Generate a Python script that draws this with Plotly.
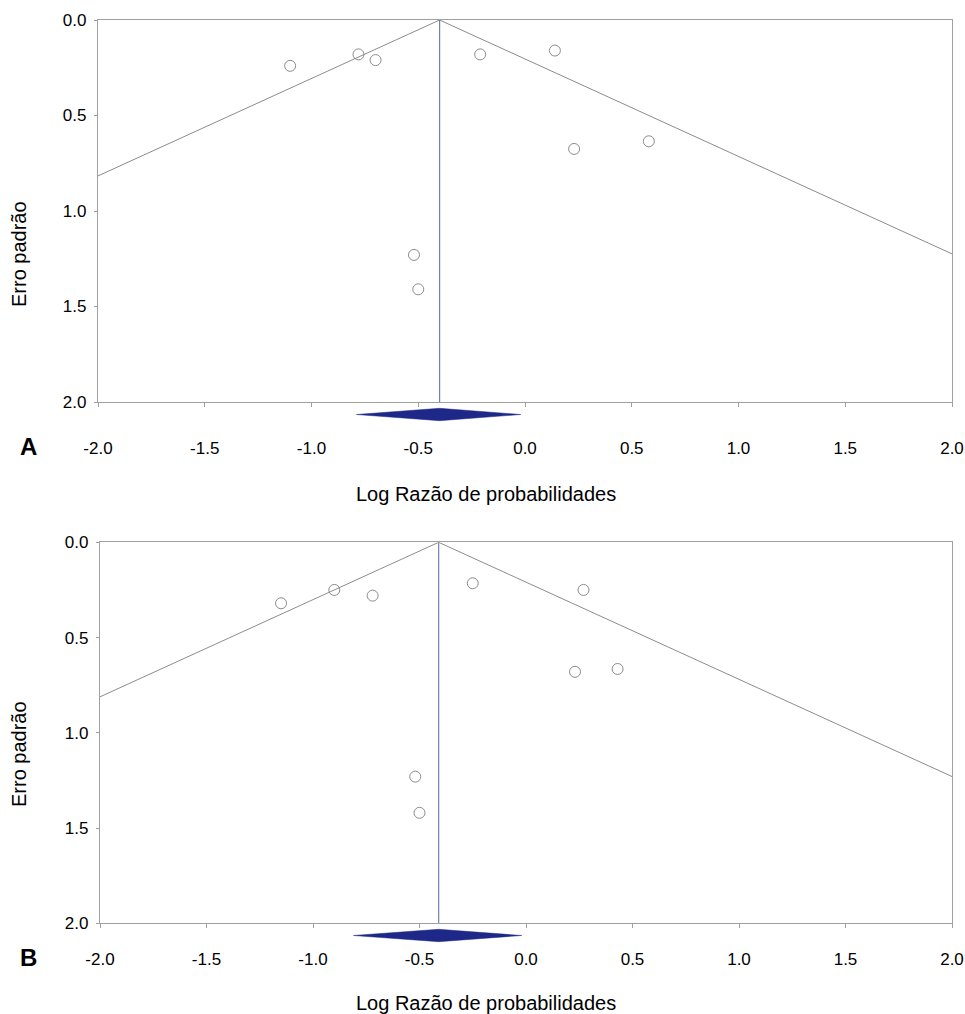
import plotly.graph_objects as go

# ---------------- data ----------------
# Panel A
a_log_or = [-1.10, -0.78, -0.70, -0.52, -0.50, -0.21, 0.14, 0.23, 0.58]
a_se = [0.24, 0.18, 0.21, 1.23, 1.41, 0.18, 0.16, 0.675, 0.635]
a_pooled = -0.40
a_ci = [-0.79, -0.02]

# Panel B
b_log_or = [-1.15, -0.90, -0.72, -0.52, -0.50, -0.25, 0.27, 0.23, 0.43]
b_se = [0.32, 0.25, 0.28, 1.23, 1.42, 0.215, 0.25, 0.68, 0.665]
b_pooled = -0.41
b_ci = [-0.81, -0.02]

se_span = [0.0, 2.0]
tick_vals = [-2.0, -1.5, -1.0, -0.5, 0.0, 0.5, 1.0, 1.5, 2.0]
tick_text = ["-2.0", "-1.5", "-1.0", "-0.5", "0.0", "0.5", "1.0", "1.5", "2.0"]
ytick_vals = [0.0, 0.5, 1.0, 1.5, 2.0]
ytick_text = ["0.0", "0.5", "1.0", "1.5", "2.0"]

x_title = "Log Razão de probabilidades"
y_title = "Erro padrão"
panel_labels = ["A", "B"]

# ---------------- layout helpers ----------------
W, H = 965, 1014
FONT = "Liberation Sans, Arial, Helvetica, sans-serif"
GRAY = "#8c8c8c"
AXIS = "#a0a0a0"
CENTER = "#7a7eae"
NAVY = "#1e2888"


def fx(p):
    return p / W


def fy(p):
    return 1 - p / H


fig = go.Figure()

panels = [
    dict(xs=a_log_or, ses=a_se, est=a_pooled, ci=a_ci, left=98, right=952, top=20, bottom=402,
         dmid=414.5, standoff=26, ax="", ay="", sx="2", sy="2"),
    dict(xs=b_log_or, ses=b_se, est=b_pooled, ci=b_ci, left=100, right=952, top=542.3, bottom=923.3,
         dmid=935.5, standoff=16, ax="3", ay="3", sx="4", sy="4"),
]

for p in panels:
    xa = "x" + p["ax"]
    ya = "y" + p["ay"]
    est = p["est"]
    # funnel limits (pseudo 95% CI)
    fig.add_trace(go.Scatter(
        x=[est - 1.96 * se_span[1], est, est + 1.96 * se_span[1]],
        y=[se_span[1], se_span[0], se_span[1]],
        mode="lines", line=dict(color=GRAY, width=1), xaxis=xa, yaxis=ya,
        showlegend=False, hoverinfo="skip"))
    # pooled estimate line
    fig.add_trace(go.Scatter(
        x=[est, est], y=se_span, mode="lines",
        line=dict(color=CENTER, width=1.2), xaxis=xa, yaxis=ya,
        showlegend=False, hoverinfo="skip"))
    # studies
    fig.add_trace(go.Scatter(
        x=p["xs"], y=p["ses"], mode="markers",
        marker=dict(symbol="circle-open", size=11, color=GRAY, line=dict(width=1, color=GRAY)),
        xaxis=xa, yaxis=ya, showlegend=False))
    # diamond
    lo, hi = p["ci"]
    fig.add_trace(go.Scatter(
        x=[lo, est, hi, est, lo], y=[0, 1, 0, -1, 0], mode="lines",
        fill="toself", fillcolor=NAVY, line=dict(color=NAVY, width=0.5),
        xaxis="x" + p["sx"], yaxis="y" + p["sy"], showlegend=False, hoverinfo="skip"))

layout = dict(
    width=W, height=H, margin=dict(l=0, r=0, t=0, b=0, pad=0, autoexpand=False),
    paper_bgcolor="white", plot_bgcolor="white",
    font=dict(family=FONT, size=17, color="black"),
    showlegend=False,
)

for p in panels:
    xk = "xaxis" + p["ax"]
    yk = "yaxis" + p["ay"]
    xs = "xaxis" + p["sx"]
    ys = "yaxis" + p["sy"]
    layout[xk] = dict(
        domain=[fx(p["left"]), fx(p["right"])], range=[-2, 2], automargin=False,
        anchor="y" + p["ay"], tickmode="array", tickvals=tick_vals, ticktext=tick_text,
        showline=True, linecolor=AXIS, linewidth=1.3, mirror=True,
        ticks="outside", ticklen=4, tickcolor=AXIS, showgrid=False, zeroline=False,
        ticklabelstandoff=p["standoff"], ticklabeloverflow="allow",
        tickfont=dict(size=17, family=FONT, color="black"),
    )
    layout[yk] = dict(
        domain=[fy(p["bottom"]), fy(p["top"])], range=[2, 0], automargin=False,
        anchor="x" + p["ax"], tickmode="array", tickvals=ytick_vals, ticktext=ytick_text,
        showline=True, linecolor=AXIS, linewidth=1.3, mirror=True,
        ticks="outside", ticklen=3, tickcolor=AXIS, showgrid=False, zeroline=False,
        ticklabelstandoff=4, ticklabeloverflow="allow",
        tickfont=dict(size=17, family=FONT, color="black"),
    )
    half = 8.5
    layout[xs] = dict(
        domain=[fx(p["left"]), fx(p["right"])], range=[-2, 2], matches="x" + p["ax"],
        anchor="y" + p["sy"], visible=False, showgrid=False, zeroline=False, automargin=False,
    )
    layout[ys] = dict(
        domain=[fy(p["dmid"] + half), fy(p["dmid"] - half)], range=[-half / 6.2, half / 6.2],
        anchor="x" + p["sx"], visible=False, showgrid=False, zeroline=False, automargin=False,
    )

annotations = []
title_pos = [(486, 494, 19, 254, 28, 447), (486, 1003, 19, 754, 28, 957)]
for lbl, (tx, ty, yx, yy, lx, ly) in zip(panel_labels, title_pos):
    annotations.append(dict(text=x_title, x=fx(tx), y=fy(ty), xref="paper", yref="paper",
                            xanchor="center", yanchor="middle", showarrow=False,
                            font=dict(size=20, family=FONT, color="black")))
    annotations.append(dict(text=y_title, x=fx(yx), y=fy(yy), xref="paper", yref="paper",
                            xanchor="center", yanchor="middle", showarrow=False, textangle=-90,
                            font=dict(size=20, family=FONT, color="black")))
    annotations.append(dict(text="<b>" + lbl + "</b>", x=fx(lx), y=fy(ly), xref="paper", yref="paper",
                            xanchor="center", yanchor="middle", showarrow=False,
                            font=dict(size=24, family=FONT, color="black")))
layout["annotations"] = annotations

fig.update_layout(**layout)
fig.write_html(
    "out.html",
    config={"displayModeBar": False},
    post_script="document.body.style.margin='0px';document.body.style.overflow='hidden';",
)
